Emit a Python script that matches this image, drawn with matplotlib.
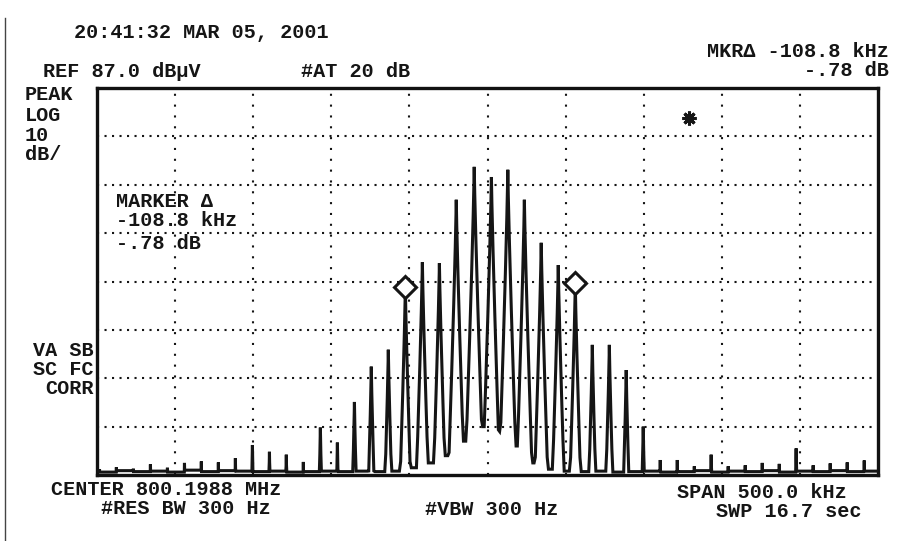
import numpy as np
import matplotlib
matplotlib.use("Agg")
import matplotlib.pyplot as plt

span_khz = 500.0
ref_dbuv = 87.0
db_per_div = 10.0

# carrier peaks: offset from centre (kHz) and level (dBuV)
peak_khz = [-248.4, -237.6, -226.7, -215.8, -204.9, -194.0, -183.2, -172.3, -161.4,
            -150.5, -139.6, -128.8, -117.9, -107.0, -96.1, -85.2, -74.4, -63.5,
            -52.6, -41.7, -30.8, -20.0, -8.5, 2.5, 13.0, 23.6, 34.4, 45.3,
            56.2, 67.1, 78.0, 88.8, 99.7, 110.6, 121.5, 132.4, 143.2, 154.1,
            165.0, 175.9, 186.8, 197.6, 208.5, 219.4, 230.3, 241.2]
peak_dbuv = [8.2, 8.6, 8.3, 9.2, 8.5, 9.5, 9.8, 9.6, 10.5,
             13.2, 11.8, 11.2, 9.7, 16.8, 13.7, 22.1, 29.4, 32.9,
             45.9, 51.0, 50.8, 63.9, 70.7, 68.6, 70.1, 63.9, 55.0, 50.4,
             46.7, 33.9, 33.9, 28.7, 17.0, 10.1, 10.1, 8.8, 11.2, 8.8,
             9.0, 9.5, 9.3, 12.5, 9.0, 9.4, 9.6, 10.0]
# trace minimum between neighbouring peaks (first/last = band edges)
valley_dbuv = [7.8, 7.6, 7.9, 7.7, 7.8, 7.6, 8.0, 7.7, 7.9, 7.8,
               7.7, 7.8, 7.6, 7.7, 7.8, 7.7, 7.8, 7.7, 7.8,
               8.5, 9.5, 11.0, 14.0, 17.0, 16.0, 13.0, 9.5, 8.2,
               7.8, 7.7, 7.8, 7.6, 7.7, 7.8, 7.6, 7.7, 7.9, 7.6,
               7.8, 7.7, 7.9, 7.6, 7.8, 7.7, 7.9, 7.7, 7.8]
marker_idx = [18, 28]          # delta-marker pair (diamonds)
asterisk_pos = (128.8, 80.8)   # '*' annotation (kHz, dBuV)

header = "20:41:32 MAR 05, 2001"
ref_text = "REF 87.0 dBµV"
att_text = "#AT 20 dB"
mkr_text = ["MKRΔ -108.8 kHz", "-.78 dB"]
left_text = ["PEAK", "LOG", "10", "dB/"]
marker_box = ["MARKER Δ", "-108.8 kHz", "-.78 dB"]
corr_text = ["VA SB", "SC FC", "CORR"]
center_text = "CENTER 800.1988 MHz"
rbw_text = "#RES BW 300 Hz"
vbw_text = "#VBW 300 Hz"
span_text = "SPAN 500.0 kHz"
swp_text = "SWP 16.7 sec"

# ---------------- figure ----------------
W, H = 899, 541
fig = plt.figure(figsize=(W / 100, H / 100), dpi=100)
fig.patch.set_facecolor("white")

L, R, T, B = 97, 878, 88, 475
ax = fig.add_axes([L / W, 1 - B / H, (R - L) / W, (B - T) / H])
x0, x1 = -span_khz / 2, span_khz / 2
y0, y1 = ref_dbuv - 8 * db_per_div, ref_dbuv
ax.set_xlim(x0, x1)
ax.set_ylim(y0, y1)
ax.set_xticks([])
ax.set_yticks([])
for s in ax.spines.values():
    s.set_linewidth(2.4)
    s.set_color("#111111")

ink = "#151515"
# dotted graticule
xg = np.linspace(x0, x1, 11)[1:-1]
yg = np.linspace(y0, y1, 9)[1:-1]
ax.vlines(xg, y0, y1, colors=ink, linewidth=1.5, linestyles=(0, (1, 4.2)), zorder=1)
ax.hlines(yg, x0, x1, colors=ink, linewidth=1.5, linestyles=(0, (1, 2.6)), zorder=1)

# build trace from peaks and valleys (spike shape = drawing style)
D, p = 60.0, 0.85
ts = np.array([1.0, 0.85, 0.7, 0.55, 0.42, 0.3, 0.2, 0.12, 0.06, 0.02, 0.0])
fx, fy = [], []
n = len(peak_khz)
for k in range(n):
    f, lv = peak_khz[k], peak_dbuv[k]
    left_edge = x0 if k == 0 else (peak_khz[k - 1] + f) / 2
    right_edge = x1 if k == n - 1 else (peak_khz[k + 1] + f) / 2
    hl = min(f - left_edge, 5.44)
    hr = min(right_edge - f, 5.44)
    vl, vr = valley_dbuv[k], valley_dbuv[k + 1]
    if k == 0:
        fx.append(left_edge); fy.append(vl)
    for t in ts:
        fx.append(f - hl * t); fy.append(max(vl, lv - D * t ** p))
    for t in ts[::-1][1:]:
        fx.append(f + hr * t); fy.append(max(vr, lv - D * t ** p))
    if k == n - 1:
        fx.append(right_edge); fy.append(vr)
ax.plot(fx, fy, color=ink, linewidth=2.2, solid_joinstyle="miter", zorder=3)

# delta markers
mx = [peak_khz[i] for i in marker_idx]
my = [peak_dbuv[i] for i in marker_idx]
ax.plot(mx, my, linestyle="none", marker="D", markersize=11,
        markerfacecolor="white", markeredgecolor=ink, markeredgewidth=2.2, zorder=4)
ax.plot([asterisk_pos[0]], [asterisk_pos[1]], linestyle="none", marker=(8, 2, 0),
        markersize=10, markeredgewidth=2.2, color=ink, zorder=4)

# ---------------- text ----------------
FONT = ["Liberation Mono", "DejaVu Sans Mono"]
FS = 14.5


def put(x, y, s, ha="center", fs=FS):
    fig.text(x / W, 1 - y / H, s, ha=ha, va="baseline", fontsize=fs,
             family=FONT, fontweight="bold", color=ink)


put(201, 38, header)
put(122, 77, ref_text)
put(356, 77, att_text)
put(889, 57, mkr_text[0], ha="right")
put(889, 76, mkr_text[1], ha="right")
for yy, s in zip([100, 121, 141, 160], left_text):
    put(25, yy, s, ha="left")
for yy, s in zip([207, 226, 249], marker_box):
    put(116, yy, s, ha="left")
for yy, s in zip([356, 375, 394], corr_text):
    put(94, yy, s, ha="right")
put(166, 495, center_text)
put(186, 514, rbw_text)
put(492, 515, vbw_text)
put(762, 498, span_text)
put(789, 517, swp_text)

# scan edge on the left
fig.add_artist(plt.Line2D([4.5 / W, 4.5 / W], [0, 1 - 18 / H], transform=fig.transFigure,
                          color="#444444", linewidth=1.0))

fig.savefig("out.png", dpi=100, facecolor="white")
